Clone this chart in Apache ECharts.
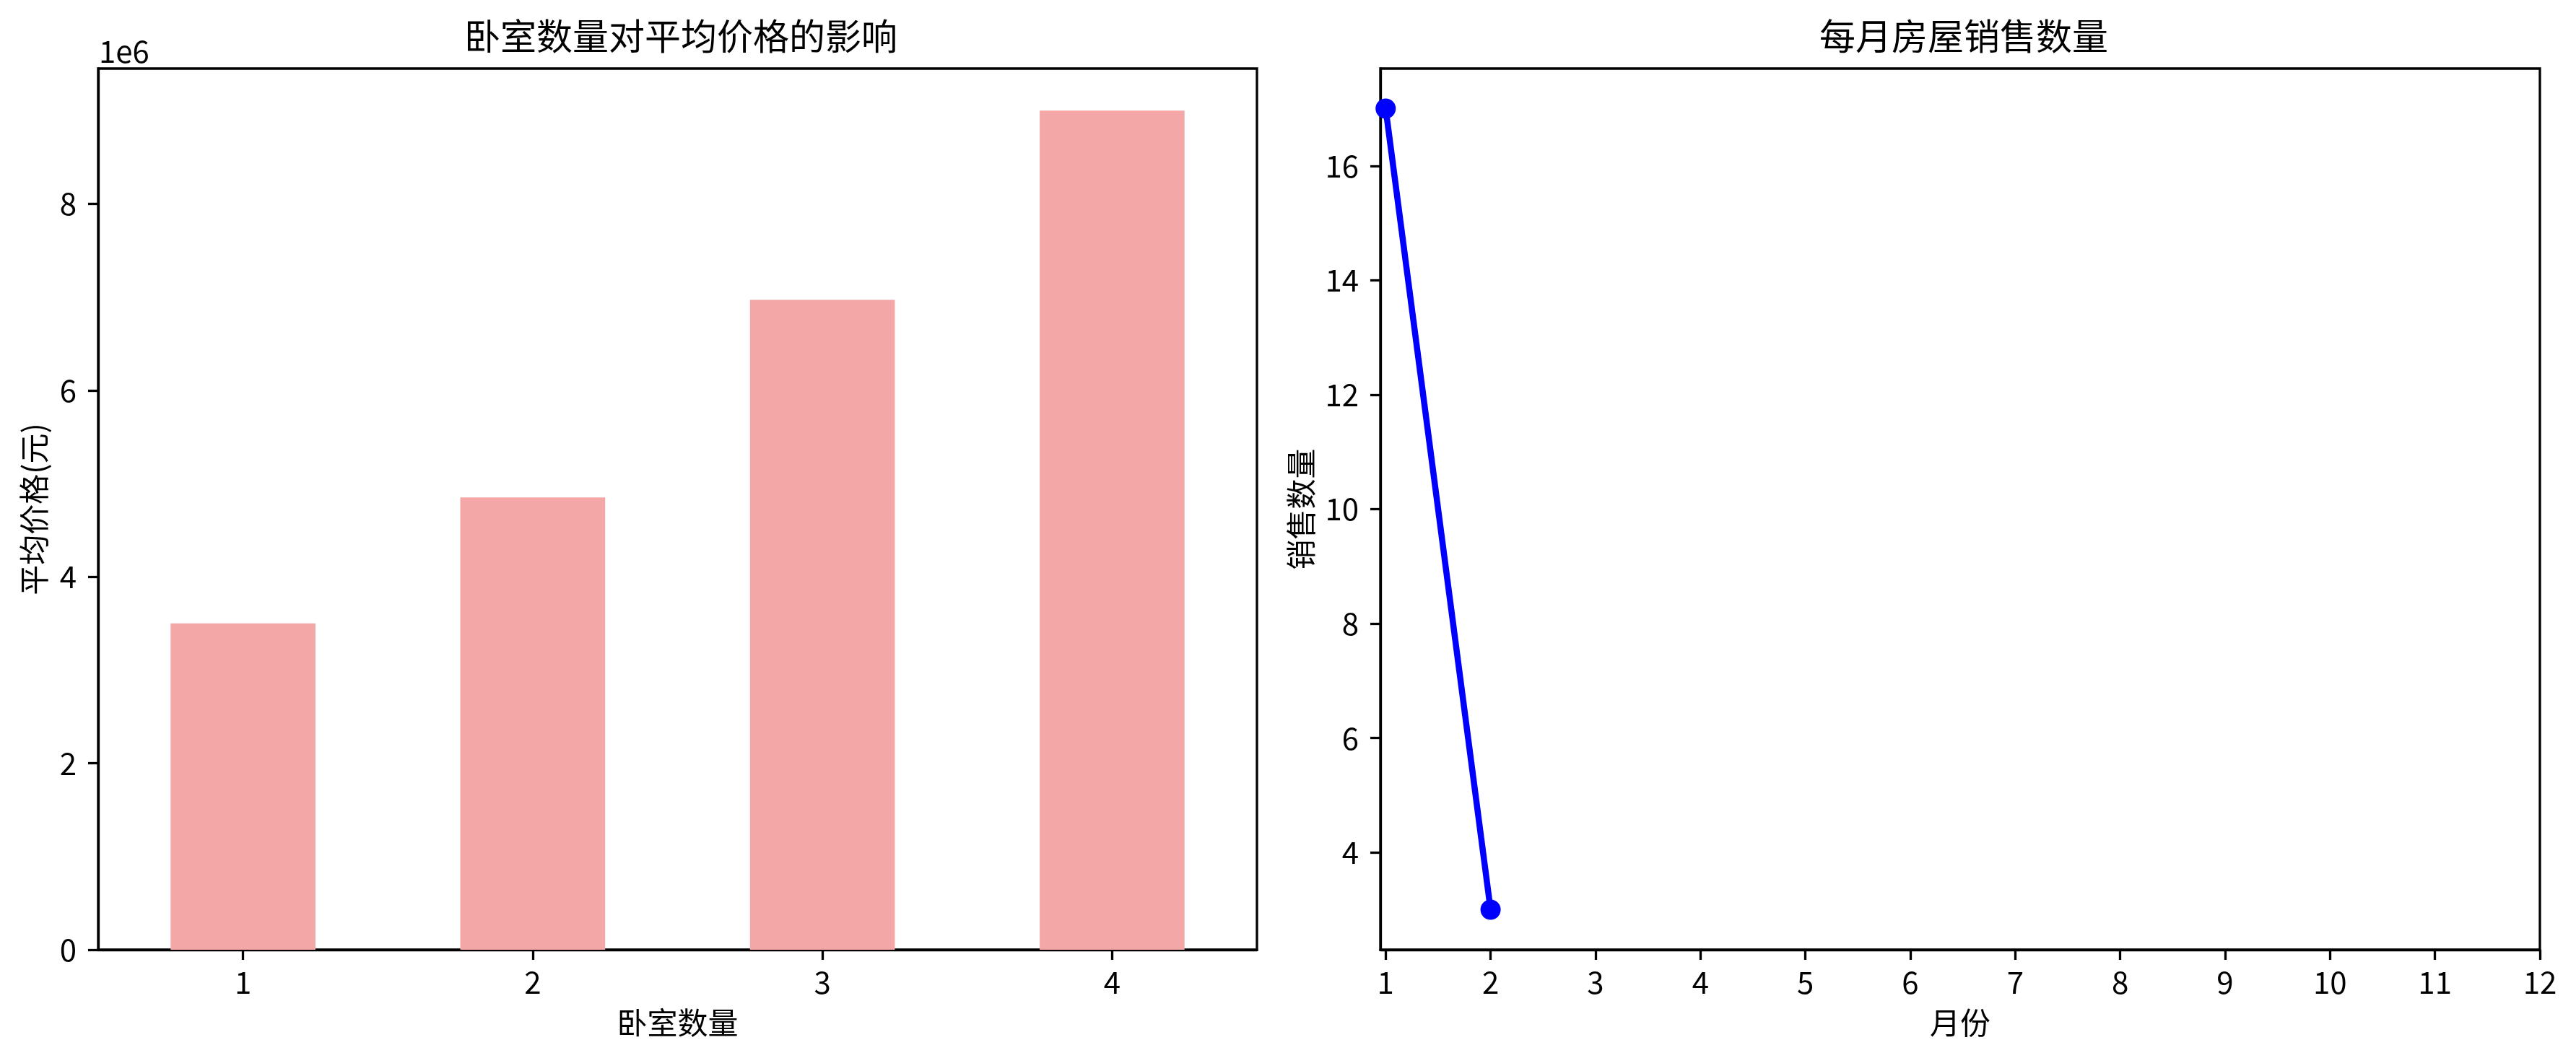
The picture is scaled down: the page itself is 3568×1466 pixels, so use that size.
<!DOCTYPE html>
<html>
<head>
<meta charset="utf-8">
<script src="https://cdn.jsdelivr.net/npm/echarts@6/dist/echarts.min.js"></script>
<style>html,body{margin:0;padding:0;background:#fff;}#c{width:3568px;height:1466px;}</style>
</head>
<body>
<div id="c"></div>
<script>
// Left chart: bedrooms vs average price
const bedroomCategories = ['1', '2', '3', '4'];
const avgPrices = [3500000, 4850000, 6970000, 9000000];
const priceTicks = [0, 2000000, 4000000, 6000000, 8000000];

// Right chart: monthly house sales
const salesMonths = [1, 2];
const salesCounts = [17, 3];
const monthTicks = [1, 2, 3, 4, 5, 6, 7, 8, 9, 10, 11, 12];
const salesTicks = [4, 6, 8, 10, 12, 14, 16];

const FONT = '"Noto Sans CJK SC", "Noto Sans", sans-serif';
const chart = echarts.init(document.getElementById('c'), null, {renderer: 'canvas'});

const axisLine = {show: true, onZero: false, lineStyle: {color: '#000', width: 3.3}};
const axisTick = {show: true, length: 14, lineStyle: {color: '#000', width: 3.3}};
const tickLabel = {color: '#000', fontSize: 42, fontFamily: FONT};
const nameStyle = {color: '#000', fontSize: 42, fontFamily: FONT};

const option = {
  backgroundColor: '#fff',
  animation: false,
  title: [
    {text: '卧室数量对平均价格的影响', left: 938, top: 20, textAlign: 'center',
     textStyle: {color: '#000', fontSize: 50, fontWeight: 'normal', fontFamily: FONT}},
    {text: '每月房屋销售数量', left: 2715, top: 20, textAlign: 'center',
     textStyle: {color: '#000', fontSize: 50, fontWeight: 'normal', fontFamily: FONT}}
  ],
  graphic: [
    {type: 'text', left: 137, top: 50, style: {text: '1e6', fill: '#000', fontSize: 42, fontFamily: FONT}}
  ],
  grid: [
    {left: 136, right: 1827, top: 95, bottom: 150, show: true, borderColor: '#000', borderWidth: 3.3, containLabel: false},
    {left: 1912, right: 50, top: 95, bottom: 150, show: true, borderColor: '#000', borderWidth: 3.3, containLabel: false}
  ],
  xAxis: [
    {type: 'category', gridIndex: 0, data: bedroomCategories, boundaryGap: true,
     name: '卧室数量', nameLocation: 'middle', nameGap: 80, nameTextStyle: nameStyle,
     axisLine: axisLine, axisTick: Object.assign({alignWithLabel: true}, axisTick),
     axisLabel: Object.assign({margin: 24}, tickLabel), splitLine: {show: false}},
    {type: 'value', gridIndex: 1, min: 0.95, max: 12,
     name: '月份', nameLocation: 'middle', nameGap: 80, nameTextStyle: nameStyle,
     axisLine: axisLine,
     axisTick: Object.assign({customValues: monthTicks}, axisTick),
     axisLabel: Object.assign({margin: 24, customValues: monthTicks, showMinLabel: true, showMaxLabel: true}, tickLabel),
     splitLine: {show: false}}
  ],
  yAxis: [
    {type: 'value', gridIndex: 0, min: 0, max: 9450000,
     name: '平均价格(元)', nameLocation: 'middle', nameGap: 68, nameTextStyle: nameStyle,
     axisLine: axisLine,
     axisTick: Object.assign({customValues: priceTicks}, axisTick),
     axisLabel: Object.assign({margin: 30, customValues: priceTicks, formatter: v => String(Math.round(v / 1e6))}, tickLabel),
     splitLine: {show: false}},
    {type: 'value', gridIndex: 1, min: 2.3, max: 17.7,
     name: '销售数量', nameLocation: 'middle', nameGap: 89, nameTextStyle: nameStyle,
     axisLine: axisLine,
     axisTick: Object.assign({customValues: salesTicks}, axisTick),
     axisLabel: Object.assign({margin: 30, customValues: salesTicks}, tickLabel),
     splitLine: {show: false}}
  ],
  series: [
    {type: 'bar', xAxisIndex: 0, yAxisIndex: 0, data: avgPrices, barWidth: '50%',
     itemStyle: {color: '#F4A7A7'}},
    {type: 'line', xAxisIndex: 1, yAxisIndex: 1,
     data: salesMonths.map((m, i) => [m, salesCounts[i]]),
     symbol: 'circle', symbolSize: 28, showSymbol: true,
     lineStyle: {color: '#0000FF', width: 8.5},
     itemStyle: {color: '#0000FF'}}
  ]
};
chart.setOption(option);
</script>
</body>
</html>
